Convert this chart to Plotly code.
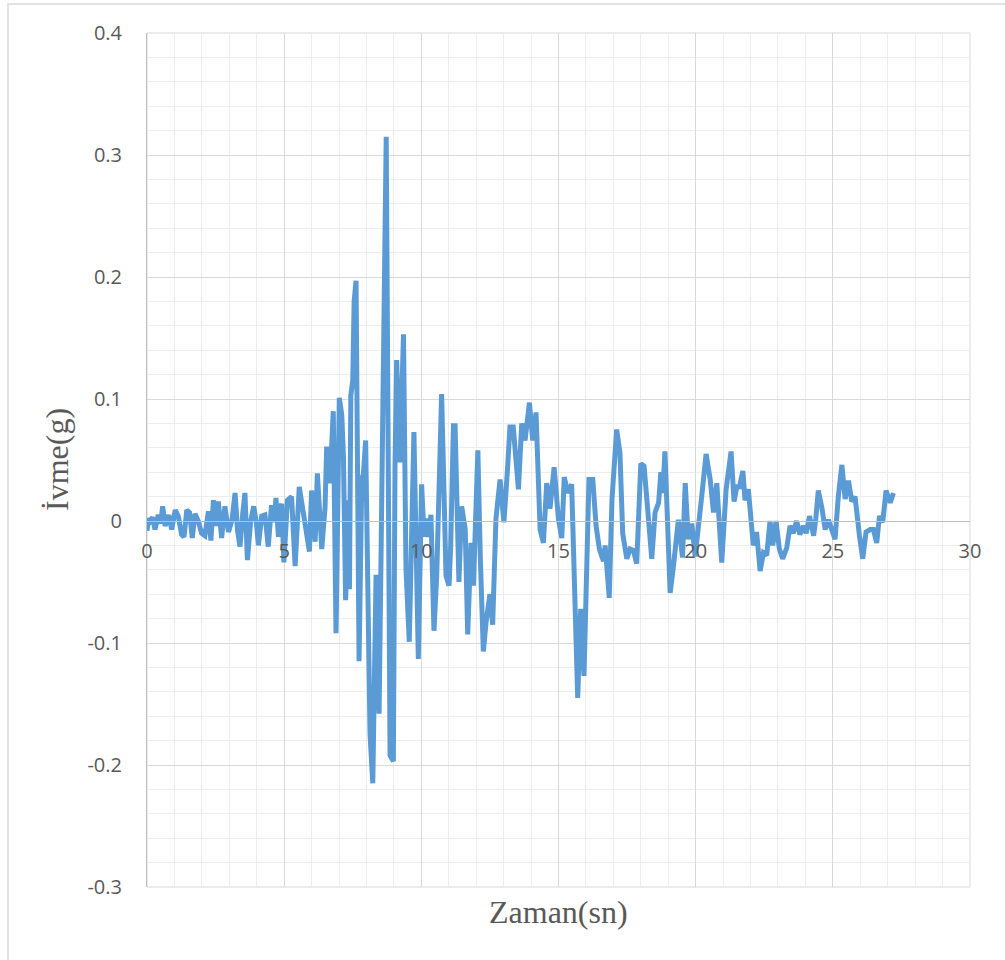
import plotly.graph_objects as go

# ---- data ----
time_s = [
    0.00, 0.05, 0.12, 0.20, 0.29, 0.41, 0.50, 0.57, 0.66, 0.79, 0.90, 1.03, 1.14, 1.26, 1.35, 1.45,
    1.55, 1.65, 1.75, 1.87, 1.99, 2.11, 2.24, 2.33, 2.42, 2.51, 2.60, 2.72, 2.84, 2.97, 3.10, 3.21,
    3.30, 3.39, 3.48, 3.57, 3.66, 3.78, 3.89, 3.99, 4.06, 4.18, 4.30, 4.42, 4.54, 4.64, 4.70, 4.79,
    4.85, 4.91, 4.99, 5.12, 5.27, 5.40, 5.55, 5.70, 5.80, 5.92, 6.00, 6.13, 6.21, 6.37, 6.49, 6.55,
    6.67, 6.79, 6.89, 6.98, 7.01, 7.10, 7.16, 7.24, 7.34, 7.38, 7.43, 7.50, 7.55, 7.62, 7.67, 7.73,
    7.83, 7.89, 7.97, 8.03, 8.13, 8.23, 8.35, 8.46, 8.56, 8.68, 8.72, 8.86, 8.98, 9.04, 9.10, 9.22,
    9.35, 9.44, 9.56, 9.73, 9.89, 10.01, 10.10, 10.17, 10.26, 10.35, 10.46, 10.56, 10.74, 10.90, 11.01, 11.07,
    11.17, 11.23, 11.37, 11.47, 11.60, 11.69, 11.81, 11.90, 12.06, 12.15, 12.26, 12.36, 12.50, 12.60, 12.72, 12.87,
    13.01, 13.14, 13.23, 13.35, 13.54, 13.66, 13.78, 13.94, 14.06, 14.18, 14.33, 14.45, 14.57, 14.69, 14.84, 15.00,
    15.12, 15.21, 15.34, 15.48, 15.60, 15.70, 15.81, 15.93, 16.11, 16.25, 16.37, 16.49, 16.64, 16.70, 16.85, 16.95,
    17.12, 17.24, 17.34, 17.49, 17.61, 17.73, 17.85, 18.00, 18.12, 18.28, 18.40, 18.52, 18.65, 18.73, 18.80, 18.88,
    18.95, 19.07, 19.19, 19.37, 19.52, 19.62, 19.73, 19.86, 19.98, 20.10, 20.22, 20.38, 20.53, 20.65, 20.77, 20.95,
    21.11, 21.29, 21.40, 21.50, 21.60, 21.72, 21.80, 21.92, 22.10, 22.22, 22.35, 22.47, 22.59, 22.71, 22.81, 22.93,
    23.05, 23.17, 23.32, 23.44, 23.56, 23.68, 23.80, 23.93, 24.03, 24.15, 24.30, 24.38, 24.47, 24.60, 24.72, 24.84,
    24.96, 25.08, 25.20, 25.33, 25.45, 25.57, 25.69, 25.81, 25.97, 26.09, 26.21, 26.36, 26.48, 26.60, 26.70, 26.82,
    26.94, 27.09, 27.21,
]
accel_g = [
    -0.008, 0.002, 0.000, 0.003, -0.007, 0.005, -0.002, 0.012, -0.004, 0.005, -0.007, 0.009, 0.004, -0.011, -0.013, 0.009,
    0.007, -0.014, 0.006, 0.000, -0.010, -0.012, 0.008, -0.016, 0.017, -0.004, 0.016, -0.014, 0.012, -0.009, 0.001, 0.023,
    -0.008, -0.021, 0.004, 0.023, -0.032, 0.000, 0.012, -0.002, -0.020, 0.004, 0.005, -0.021, 0.013, -0.001, 0.019, -0.013,
    0.010, 0.014, -0.034, 0.017, 0.020, -0.037, 0.028, 0.006, -0.008, -0.025, 0.025, -0.017, 0.039, -0.023, 0.011, 0.061,
    0.031, 0.090, -0.092, 0.090, 0.101, 0.087, 0.054, -0.065, 0.017, -0.056, 0.103, 0.115, 0.180, 0.197, 0.003, -0.115,
    0.034, 0.039, 0.066, -0.034, -0.175, -0.215, -0.044, -0.158, 0.039, 0.280, 0.315, -0.192, -0.197, 0.045, 0.132, 0.048,
    0.153, -0.039, -0.099, 0.073, -0.113, 0.030, -0.013, 0.002, -0.013, 0.005, -0.090, -0.045, 0.104, -0.045, -0.053, -0.020,
    0.078, 0.078, -0.050, 0.012, -0.007, -0.093, -0.018, -0.053, 0.058, -0.030, -0.107, -0.083, -0.060, -0.085, 0.002, 0.034,
    -0.001, 0.042, 0.077, 0.077, 0.026, 0.080, 0.066, 0.097, 0.066, 0.089, -0.007, -0.018, 0.031, 0.010, 0.044, 0.001,
    -0.014, 0.036, 0.023, 0.030, -0.061, -0.145, -0.072, -0.127, 0.034, 0.034, -0.004, -0.023, -0.033, -0.020, -0.063, 0.018,
    0.075, 0.056, -0.010, -0.031, -0.023, -0.024, -0.035, 0.047, 0.045, -0.001, -0.031, 0.007, 0.015, 0.040, 0.023, 0.057,
    0.019, -0.059, -0.037, 0.001, -0.030, 0.031, -0.015, -0.002, -0.029, 0.001, 0.020, 0.055, 0.034, 0.007, 0.031, -0.034,
    0.026, 0.057, 0.016, 0.028, 0.028, 0.041, 0.017, 0.026, -0.020, -0.009, -0.041, -0.026, -0.028, 0.000, -0.020, 0.000,
    -0.023, -0.031, -0.022, -0.004, -0.010, 0.000, -0.011, -0.004, -0.010, 0.004, -0.012, 0.002, 0.025, 0.011, -0.007, 0.001,
    -0.007, -0.015, 0.020, 0.046, 0.018, 0.033, 0.016, 0.020, -0.012, -0.031, -0.009, -0.007, -0.007, -0.018, 0.004, -0.001,
    0.025, 0.015, 0.023,
]

x_tick_vals = [0, 5, 10, 15, 20, 25, 30]
x_tick_text = ["0", "5", "10", "15", "20", "25", "30"]
y_tick_vals = [0.4, 0.3, 0.2, 0.1, 0.0, -0.1, -0.2, -0.3]
y_tick_text = ["0.4", "0.3", "0.2", "0.1", "0", "-0.1", "-0.2", "-0.3"]

x_title = "Zaman(sn)"
y_title = "İvme(g)"

X_RANGE = [0, 30]
Y_RANGE = [-0.3, 0.4]

LINE_COLOR = "#5B9BD5"
TEXT_COLOR = "#595959"
MAJOR_GRID = "#D9D9D9"
MINOR_GRID = "#EDEDED"

W, H = 1005, 960
L, R, T, B = 147, 35, 33, 73
plot_h = H - T - B
plot_w = W - L - R
zero_pos = (0 - Y_RANGE[0]) / (Y_RANGE[1] - Y_RANGE[0])

fig = go.Figure()
fig.add_trace(go.Scatter(
    x=time_s, y=accel_g, mode="lines",
    line=dict(color=LINE_COLOR, width=5),
    showlegend=False, hoverinfo="x+y",
))

fig.update_layout(
    width=W, height=H,
    margin=dict(l=L, r=R, t=T, b=B, pad=0),
    paper_bgcolor="white", plot_bgcolor="white",
    font=dict(family="Open Sans", size=20, color=TEXT_COLOR),
    xaxis=dict(
        range=X_RANGE, tickvals=x_tick_vals, ticktext=x_tick_text,
        showgrid=True, gridcolor=MAJOR_GRID, gridwidth=1,
        minor=dict(dtick=1, showgrid=True, gridcolor=MINOR_GRID, gridwidth=1),
        zeroline=False, showline=True, linecolor="#BFBFBF", linewidth=1,
        anchor="free", position=zero_pos,
        ticks="", ticklabelstandoff=12,
        tickfont=dict(family="Open Sans", size=20, color=TEXT_COLOR),
    ),
    yaxis=dict(
        range=Y_RANGE, tickvals=y_tick_vals, ticktext=y_tick_text,
        showgrid=True, gridcolor=MAJOR_GRID, gridwidth=1,
        minor=dict(dtick=0.02, showgrid=True, gridcolor=MINOR_GRID, gridwidth=1),
        zeroline=False, showline=True, linecolor="#BFBFBF", linewidth=1,
        ticks="", ticklabelstandoff=20,
        tickfont=dict(family="Open Sans", size=20, color=TEXT_COLOR),
    ),
)

# axis titles (serif, as in the reference)
fig.add_annotation(
    text=x_title, xref="paper", yref="paper",
    x=0.5, y=-(912 - (H - B)) / plot_h, yanchor="middle", xanchor="center",
    showarrow=False, font=dict(family="Liberation Serif", size=32, color=TEXT_COLOR),
)
fig.add_annotation(
    text=y_title, xref="paper", yref="paper",
    x=-(L - 57) / plot_w, y=0.5, xanchor="center", yanchor="middle", textangle=-90,
    showarrow=False, font=dict(family="Liberation Serif", size=32, color=TEXT_COLOR),
)

# plot area border
fig.add_shape(type="rect", xref="paper", yref="paper", x0=0, y0=0, x1=1, y1=1,
              line=dict(color=MAJOR_GRID, width=1), layer="below")
# outer chart frame
fig.add_shape(type="rect", xref="paper", yref="paper",
              x0=(8 - L) / plot_w, x1=(W + 10 - L) / plot_w,
              y0=-(H + 10 - (H - B)) / plot_h, y1=((H - B) - 4) / plot_h,
              line=dict(color="#D9D9D9", width=1.5))

fig.write_html(
    "out.html",
    config={"displayModeBar": False},
    post_script="document.body.style.margin='0';document.body.style.overflow='hidden';",
)
